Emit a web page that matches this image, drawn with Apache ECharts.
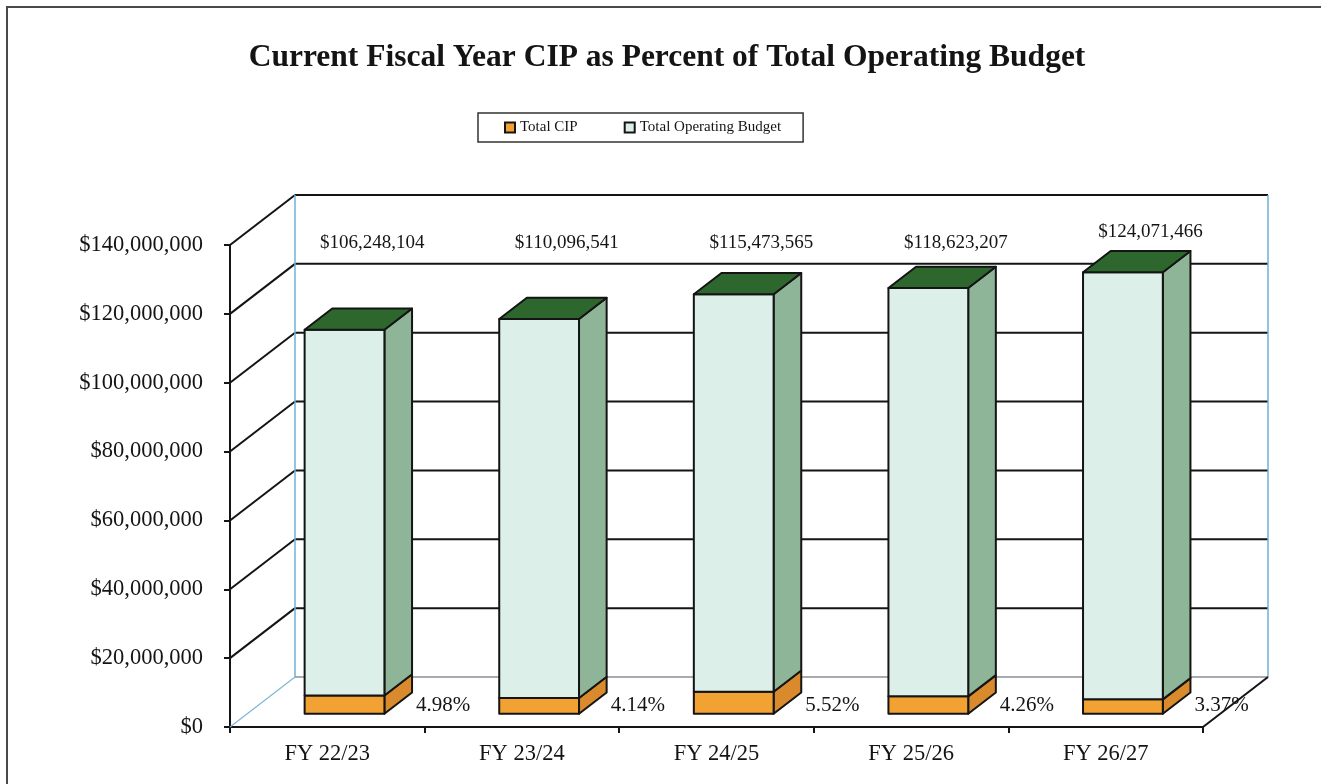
<!DOCTYPE html>
<html>
<head>
<meta charset="utf-8">
<script src="https://cdn.jsdelivr.net/npm/echarts@6/dist/echarts.min.js"></script>
<style>
  html, body { margin: 0; padding: 0; background: #ffffff; }
  #chart { width: 1321px; height: 784px; }
</style>
</head>
<body>
<div id="chart"></div>
<script>
// Fiscal years shown on the category axis
const categories = ['FY 22/23', 'FY 23/24', 'FY 24/25', 'FY 25/26', 'FY 26/27'];
// Total operating budget per year (dollars)
const operatingBudget = [106248104, 110096541, 115473565, 118623207, 124071466];
// CIP as a percent of the operating budget
const cipPercent = [4.98, 4.14, 5.52, 4.26, 3.37];
// Value axis range
const yMin = 0;
const yMax = 140000000;
const yStep = 20000000;

// CIP dollars follow from the stated percentage of each year's budget
const cipAmount = operatingBudget.map((b, i) => b * cipPercent[i] / 100);

const SERIF = '"Liberation Serif", "DejaVu Serif", serif';
const INK = '#141414';

// Pseudo-3D depth of the plot box (pixels) and the depth slice the columns occupy
const DEPTH_X = 65;
const DEPTH_Y = 50;
const BAR_FRONT = 0.265;
const BAR_BACK = 0.69;
const BAR_WIDTH_RATIO = 0.41;

const fmtMoney = v => '$' + Math.round(v).toLocaleString('en-US');

const chart = echarts.init(document.getElementById('chart'), null, { renderer: 'canvas' });

// Back wall, side wall and floor of the 3D frame
function renderFrame(params, api) {
  const cs = params.coordSys;
  const left = cs.x, right = cs.x + cs.width;
  const children = [];
  for (let v = yMin; v <= yMax; v += yStep) {
    const y = api.coord([0, v])[1];
    const isFloor = v === yMin;
    // back wall horizontal line
    children.push({
      type: 'line',
      shape: { x1: left + DEPTH_X, y1: y - DEPTH_Y, x2: right + DEPTH_X, y2: y - DEPTH_Y },
      style: { stroke: isFloor ? '#8a8f94' : INK, lineWidth: isFloor ? 1.5 : 2 }
    });
    // side wall diagonal
    children.push({
      type: 'line',
      shape: { x1: left, y1: y, x2: left + DEPTH_X, y2: y - DEPTH_Y },
      style: { stroke: isFloor ? '#7fb6d6' : INK, lineWidth: isFloor ? 1.2 : 2 }
    });
  }
  const yTop = api.coord([0, yMax])[1];
  const yBot = api.coord([0, yMin])[1];
  // back wall vertical edges
  [left + DEPTH_X, right + DEPTH_X].forEach(x => {
    children.push({
      type: 'line',
      shape: { x1: x, y1: yTop - DEPTH_Y, x2: x, y2: yBot - DEPTH_Y },
      style: { stroke: '#6fb0d8', lineWidth: 1.5 }
    });
  });
  // floor right edge
  children.push({
    type: 'line',
    shape: { x1: right, y1: yBot, x2: right + DEPTH_X, y2: yBot - DEPTH_Y },
    style: { stroke: INK, lineWidth: 2 }
  });
  return { type: 'group', children: children };
}

// One 3D box from value v0 to v1 at category index i
function box(api, i, v0, v1, colors, withTop) {
  const catW = api.size([1, 0])[0];
  const hw = catW * BAR_WIDTH_RATIO / 2;
  const c0 = api.coord([i, v0]);
  const c1 = api.coord([i, v1]);
  const x = c0[0] + BAR_FRONT * DEPTH_X;
  const yb = c0[1] - BAR_FRONT * DEPTH_Y;
  const yt = c1[1] - BAR_FRONT * DEPTH_Y;
  const bdx = (BAR_BACK - BAR_FRONT) * DEPTH_X;
  const bdy = (BAR_BACK - BAR_FRONT) * DEPTH_Y;
  const stroke = { stroke: INK, lineWidth: 2, lineJoin: 'round' };
  const parts = [
    {
      type: 'polygon',
      shape: { points: [[x + hw, yb], [x + hw + bdx, yb - bdy], [x + hw + bdx, yt - bdy], [x + hw, yt]] },
      style: Object.assign({ fill: colors.side }, stroke)
    },
    {
      type: 'rect',
      shape: { x: x - hw, y: yt, width: hw * 2, height: yb - yt },
      style: Object.assign({ fill: colors.front }, stroke)
    }
  ];
  if (withTop) {
    parts.push({
      type: 'polygon',
      shape: { points: [[x - hw, yt], [x + hw, yt], [x + hw + bdx, yt - bdy], [x - hw + bdx, yt - bdy]] },
      style: Object.assign({ fill: colors.top }, stroke)
    });
  }
  return { x: x, hw: hw, yb: yb, yt: yt, bdx: bdx, bdy: bdy, parts: parts };
}

const CIP_COLORS = { front: '#f2a232', side: '#d98a2c', top: '#e8962e' };
const OPS_COLORS = { front: '#dcefe8', side: '#8fb598', top: '#2e672d' };

function renderCip(params, api) {
  const i = api.value(0);
  const b = box(api, i, 0, api.value(1), CIP_COLORS, false);
  const pctText = {
    type: 'text',
    style: {
      text: cipPercent[i].toFixed(2) + '%',
      x: b.x + b.hw + b.bdx + 4,
      y: api.coord([i, 0])[1] - 22,
      align: 'left', verticalAlign: 'middle',
      font: '21px ' + SERIF, fill: INK
    },
    z2: 10
  };
  return { type: 'group', children: b.parts.concat([pctText]) };
}

function renderOps(params, api) {
  const i = api.value(0);
  const base = cipAmount[i];
  const b = box(api, i, base, base + api.value(1), OPS_COLORS, true);
  const yCap = api.coord([i, yMax])[1] - 2;
  const label = {
    type: 'text',
    style: {
      text: fmtMoney(operatingBudget[i]),
      x: b.x + b.bdx,
      y: Math.min(yCap, b.yt - b.bdy - 19),
      align: 'center', verticalAlign: 'middle',
      font: '19px ' + SERIF, fill: INK
    },
    z2: 10
  };
  return { type: 'group', children: b.parts.concat([label]) };
}

const option = {
  backgroundColor: '#ffffff',
  animation: false,
  graphic: [
    {
      type: 'polyline',
      shape: { points: [[7, 784], [7, 7], [1321, 7]] },
      style: { stroke: '#4a4a4a', lineWidth: 2, fill: null },
      silent: true
    },
    {
      type: 'text',
      x: 667, y: 58,
      style: {
        text: 'Current Fiscal Year CIP as Percent of Total Operating Budget',
        align: 'center', verticalAlign: 'middle',
        font: 'bold 31.5px ' + SERIF, fill: INK
      }
    }
  ],
  legend: {
    left: 478, top: 113,
    padding: [7, 22, 7, 26],
    itemGap: 46,
    itemWidth: 10, itemHeight: 10,
    borderColor: '#333333', borderWidth: 1.5,
    backgroundColor: '#ffffff',
    selectedMode: false,
    textStyle: { fontFamily: SERIF, fontSize: 15, color: INK },
    data: [
      { name: 'Total CIP', icon: 'rect', itemStyle: { color: '#f2a232', borderColor: INK, borderWidth: 2 } },
      { name: 'Total Operating Budget', icon: 'rect', itemStyle: { color: '#dcefe8', borderColor: INK, borderWidth: 2 } }
    ]
  },
  grid: { left: 230, right: 118, top: 245, bottom: 57, containLabel: false },
  xAxis: {
    type: 'category',
    data: categories,
    boundaryGap: true,
    axisLine: { show: true, lineStyle: { color: INK, width: 2 } },
    axisTick: { show: true, length: 6, lineStyle: { color: INK, width: 2 } },
    axisLabel: { fontFamily: SERIF, fontSize: 22.5, color: INK, margin: 16 },
    splitLine: { show: false }
  },
  yAxis: {
    type: 'value',
    min: yMin, max: yMax, interval: yStep,
    axisLine: { show: true, lineStyle: { color: INK, width: 2 } },
    axisTick: { show: true, length: 6, lineStyle: { color: INK, width: 2 } },
    axisLabel: { fontFamily: SERIF, fontSize: 22.5, color: INK, margin: 27, formatter: v => fmtMoney(v) },
    splitLine: { show: false }
  },
  series: [
    {
      name: 'frame',
      type: 'custom',
      renderItem: renderFrame,
      clip: false,
      silent: true,
      z: 1,
      data: [[0, 0]]
    },
    {
      name: 'Total CIP',
      type: 'custom',
      renderItem: renderCip,
      clip: false,
      z: 3,
      itemStyle: { color: '#f2a232' },
      encode: { x: 0, y: 1 },
      data: categories.map((c, i) => [i, cipAmount[i]])
    },
    {
      name: 'Total Operating Budget',
      type: 'custom',
      renderItem: renderOps,
      clip: false,
      z: 4,
      itemStyle: { color: '#dcefe8' },
      encode: { x: 0, y: 1 },
      data: categories.map((c, i) => [i, operatingBudget[i]])
    }
  ]
};

chart.setOption(option);
</script>
</body>
</html>
